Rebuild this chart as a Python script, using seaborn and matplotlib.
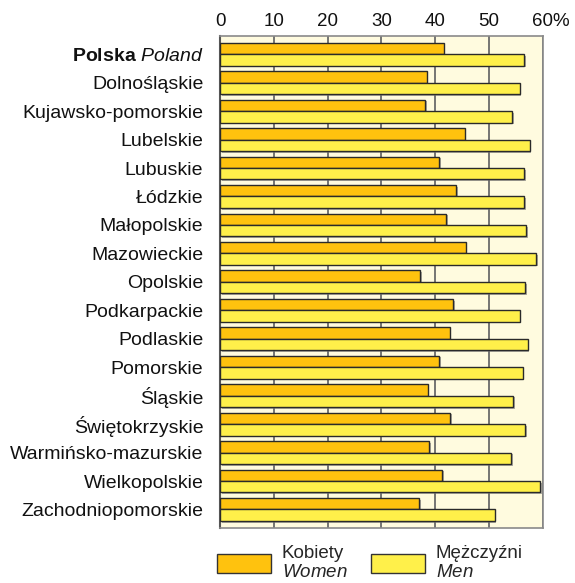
import numpy as np
import pandas as pd
import matplotlib
matplotlib.use("Agg")
import matplotlib.pyplot as plt
import matplotlib.patheffects as pe
from matplotlib.patches import Patch
from matplotlib.transforms import ScaledTranslation
import seaborn as sns

regions = ["$\\bf{Polska}$ $\\it{Poland}$", "Dolnośląskie", "Kujawsko-pomorskie", "Lubelskie",
           "Lubuskie", "Łódzkie", "Małopolskie", "Mazowieckie", "Opolskie",
           "Podkarpackie", "Podlaskie", "Pomorskie", "Śląskie", "Świętokrzyskie",
           "Warmińsko-mazurskie", "Wielkopolskie", "Zachodniopomorskie"]
women = [41.6, 38.4, 38.1, 45.5, 40.8, 43.9, 42.1, 45.7, 37.2, 43.3, 42.7, 40.7,
         38.6, 42.8, 38.9, 41.3, 37.0]
men = [56.5, 55.7, 54.3, 57.6, 56.5, 56.5, 56.9, 58.8, 56.7, 55.7, 57.2, 56.3,
       54.5, 56.7, 54.1, 59.5, 51.1]
series = ["Kobiety\n$\\it{Women}$", "Mężczyźni\n$\\it{Men}$"]
xticks = [0, 10, 20, 30, 40, 50, 60]
xticklabels = ["0", "10", "20", "30", "40", "50", "60%"]

c_women = "#FFC20E"
c_men = "#FFF04A"
bg = "#FFFBDF"

sns.set_theme(style="white")
plt.rcParams["font.family"] = ["Liberation Sans", "DejaVu Sans"]
plt.rcParams["mathtext.fontset"] = "custom"
plt.rcParams["mathtext.rm"] = "Liberation Sans"
plt.rcParams["mathtext.it"] = "Liberation Sans:italic"
plt.rcParams["mathtext.bf"] = "Liberation Sans:bold"

df = pd.DataFrame({
    "region": regions * 2,
    "value": women + men,
    "sex": [series[0]] * len(regions) + [series[1]] * len(regions),
})

fig = plt.figure(figsize=(5.75, 5.83), dpi=100)
ax = fig.add_axes([220 / 575, 1 - 527.7 / 583, (542.7 - 220) / 575, (527.7 - 36) / 583])
ax.set_facecolor(bg)

sns.barplot(data=df, y="region", x="value", hue="sex", orient="h",
            palette=[c_women, c_men], saturation=1, width=0.8,
            edgecolor="#2a2a2a", linewidth=1.0, legend=False, ax=ax, zorder=3)
for p in ax.patches:
    p.set_path_effects([pe.SimplePatchShadow(offset=(1.2, -1.2), shadow_rgbFace="#777777", alpha=0.6),
                        pe.Normal()])

ax.set_xlim(0, 60)
ax.set_ylim(16.64, -0.64)
ax.set_xlabel("")
ax.set_ylabel("")
ax.xaxis.set_ticks_position("top")
ax.set_xticks(xticks)
ax.set_xticklabels(xticklabels)
ax.tick_params(axis="x", which="both", length=0, pad=4, labelsize=13.5, labeltop=True,
               labelbottom=False, colors="#111111")
ax.tick_params(axis="y", length=0, pad=12, labelsize=14, colors="#111111")
ax.grid(axis="x", color="#6a6a6a", linewidth=1.3, zorder=1)
ax.grid(axis="y", visible=False)
ax.set_axisbelow(True)
for s in ["top", "bottom", "right"]:
    ax.spines[s].set_color("#8a8a8a")
    ax.spines[s].set_linewidth(1.2)
ax.spines["left"].set_color("#555555")
ax.spines["left"].set_linewidth(1.5)

# shift "60%" so that "60" sits centred on its tick
lab = ax.xaxis.get_major_ticks()[-1].label2
lab.set_transform(lab.get_transform() + ScaledTranslation(5.8 / 72, 0, fig.dpi_scale_trans))

handles = [Patch(facecolor=c_women, edgecolor="#333333", linewidth=1.0),
           Patch(facecolor=c_men, edgecolor="#333333", linewidth=1.0)]
fig.legend(handles, series, loc="center left", bbox_to_anchor=(217 / 575, 1 - 563 / 583),
           ncol=2, frameon=False, fontsize=13.5, handlelength=2.9, handleheight=1.2,
           handletextpad=0.55, columnspacing=1.25, borderpad=0, borderaxespad=0,
           labelspacing=0.2)

fig.savefig("out.png", dpi=100)
